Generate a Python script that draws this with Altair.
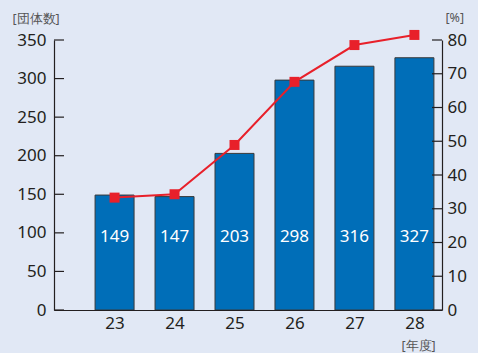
import altair as alt
import pandas as pd

years = [23, 24, 25, 26, 27, 28]
counts = [149, 147, 203, 298, 316, 327]
pct = [33.3, 34.3, 48.9, 67.6, 78.5, 81.5]
left_ticks = [0, 50, 100, 150, 200, 250, 300, 350]
right_ticks = [0, 10, 20, 30, 40, 50, 60, 70, 80]

df = pd.DataFrame({"year": years, "count": counts, "pct": pct})
lt = pd.DataFrame({"count": left_ticks})
rt = pd.DataFrame({"pct": right_ticks})

FONT = "Noto Sans"
BG = "#e1e8f5"
BLUE = "#006eb8"
RED = "#e8202a"
INK = "#231f20"

xscale = alt.Scale(domain=[21.99, 28.46], nice=False, zero=False, padding=0)
lscale = alt.Scale(domain=[0, 350], nice=False)
rscale = alt.Scale(domain=[0, 80], nice=False)

x_axis = alt.Axis(values=years, format="d", tickSize=0, labelPadding=5,
                  labelFontSize=17, labelColor=INK, labelFont=FONT,
                  domainColor=INK, domainWidth=1.2, grid=False, zindex=2,
                  title="[年度]", titleFont=FONT, titleFontSize=12.5,
                  titleFontWeight="normal", titleColor="#555555",
                  titleAlign="left", titleBaseline="middle",
                  titleX=347, titleY=35, titleAnchor="start")

l_axis = alt.Axis(values=left_ticks, tickSize=0, labelPadding=8,
                  labelFontSize=17, labelColor=INK, labelFont=FONT,
                  domainColor=INK, domainWidth=1.2, grid=False,
                  zindex=2,
                  title="[団体数]", titleFont=FONT,
                  titleFontSize=12.5, titleFontWeight="normal",
                  titleColor="#555555", titleAngle=0,
                  titleAlign="left", titleBaseline="middle",
                  titleX=-42, titleY=-22)

r_axis = alt.Axis(values=right_ticks, tickSize=0, labelPadding=5,
                  labelFontSize=17, labelColor=INK, labelFont=FONT,
                  domainColor=INK, domainWidth=1.2, grid=False,
                  zindex=2, orient="right",
                  title="[%]", titleFont=FONT, titleFontSize=12.5,
                  titleFontWeight="normal", titleColor="#555555",
                  titleAngle=0, titleAlign="left",
                  titleBaseline="middle", titleX=3, titleY=-23)

bars = alt.Chart(df).mark_bar(size=39, color=BLUE, stroke="#3a3a3a",
                              strokeWidth=1).encode(
    x=alt.X("year:Q", scale=xscale, axis=x_axis),
    y=alt.Y("count:Q", scale=lscale, axis=l_axis),
)

labels = alt.Chart(df).mark_text(color="white", fontSize=17, font=FONT,
                                 baseline="middle", align="center").encode(
    x=alt.X("year:Q", scale=xscale, axis=x_axis),
    y=alt.value(197),
    text=alt.Text("count:Q"),
)

lticks = alt.Chart(lt).mark_rule(color=INK, strokeWidth=1.2).encode(
    y=alt.Y("count:Q", scale=lscale, axis=l_axis),
    x=alt.value(0), x2=alt.value(10),
)

left = alt.layer(bars, labels, lticks)

line = alt.Chart(df).mark_line(color=RED, strokeWidth=2).encode(
    x=alt.X("year:Q", scale=xscale, axis=x_axis),
    y=alt.Y("pct:Q", scale=rscale, axis=r_axis),
)

points = alt.Chart(df).mark_point(shape="square", filled=True, color=RED,
                                  size=100, opacity=1).encode(
    x=alt.X("year:Q", scale=xscale, axis=x_axis),
    y=alt.Y("pct:Q", scale=rscale, axis=r_axis),
)

rticks = alt.Chart(rt).mark_rule(color=INK, strokeWidth=1.2).encode(
    y=alt.Y("pct:Q", scale=rscale, axis=r_axis),
    x=alt.value(378), x2=alt.value(388),
)

right = alt.layer(line, points, rticks)

chart = alt.layer(left, right).resolve_scale(y="independent").properties(
    width=388, height=270,
    autosize=alt.AutoSizeParams(type="none"),
    padding={"left": 54, "top": 40, "right": 36, "bottom": 43},
    background=BG,
).configure_view(stroke=None)

chart.save("out.html", embed_options={"renderer": "svg", "actions": False})
